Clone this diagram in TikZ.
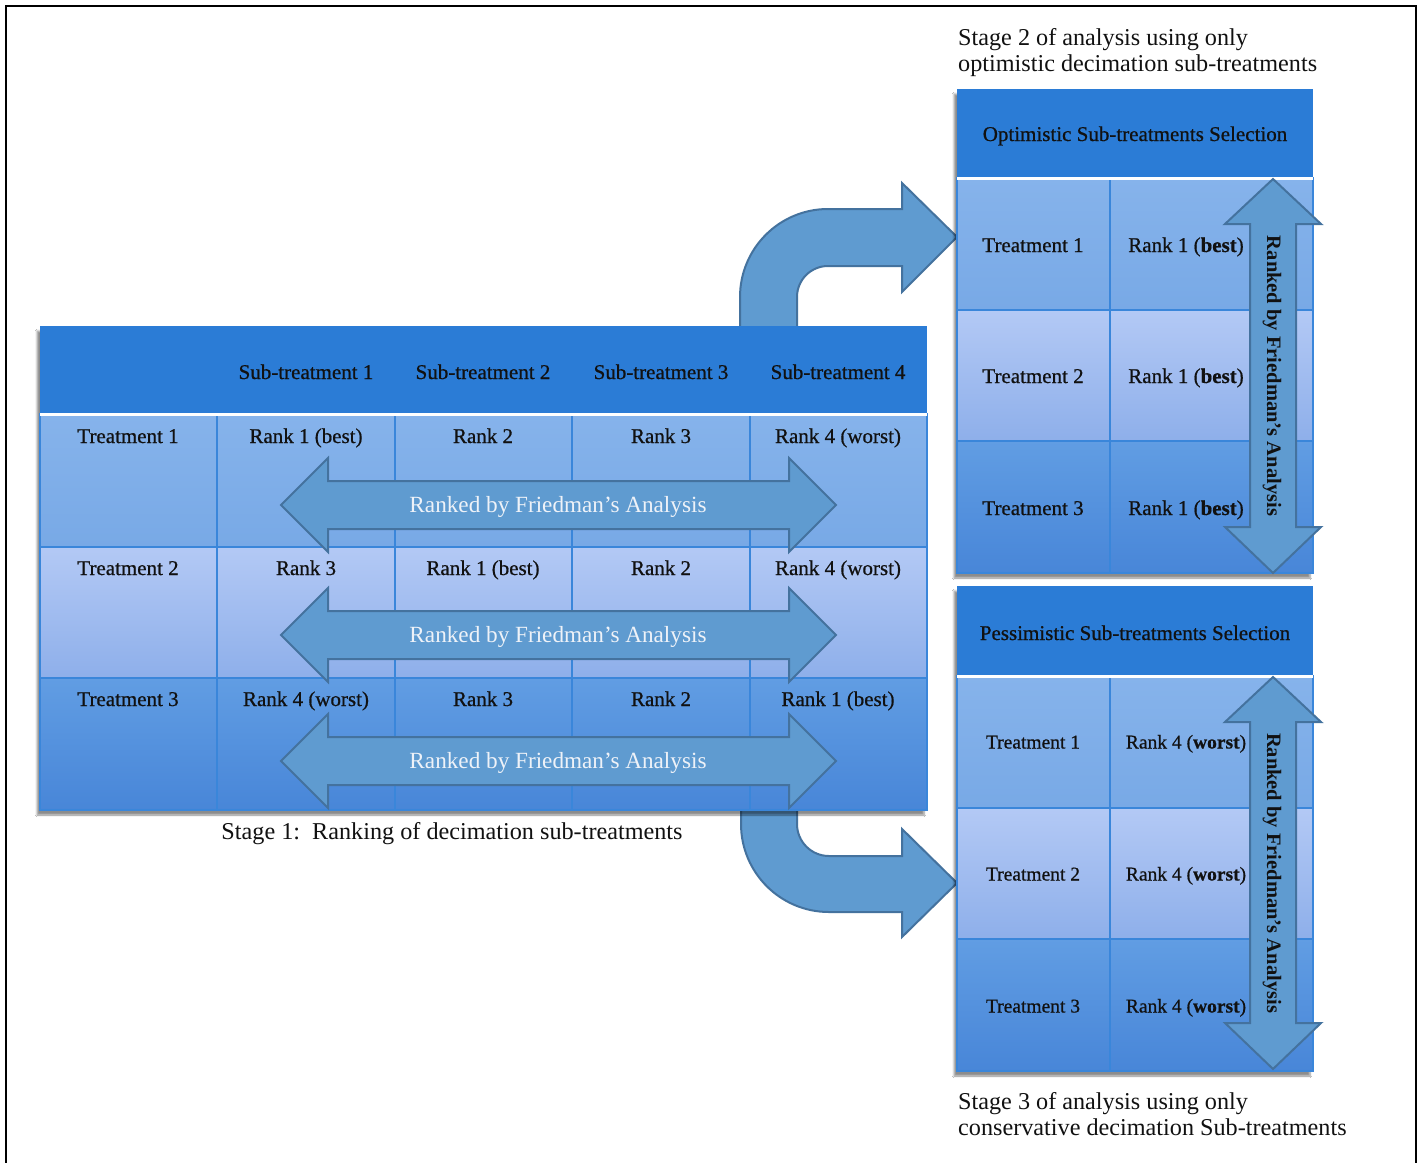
\documentclass[tikz,border=0pt]{standalone}
\usepackage{fontspec}
\setmainfont{Liberation Serif}
\usetikzlibrary{shadows.blur}

\definecolor{hdr}{HTML}{2B7CD6}
\definecolor{rowAtop}{HTML}{86B3EB}
\definecolor{rowAbot}{HTML}{78A9E6}
\definecolor{rowBtop}{HTML}{B3C9F5}
\definecolor{rowBbot}{HTML}{8EAFEA}
\definecolor{rowCtop}{HTML}{619DE3}
\definecolor{rowCbot}{HTML}{4886D8}
\definecolor{grid}{HTML}{3A86DA}
\definecolor{arrfill}{HTML}{5F9BD0}
\definecolor{arrdraw}{HTML}{44729E}
\definecolor{arrtext}{HTML}{EEF2F8}
\definecolor{ink}{HTML}{111111}

\newcommand\cellfont{\fontsize{21}{25}\selectfont\addfontfeature{FakeBold=0.7}}
\newcommand\smallcellfont{\fontsize{19.5}{23}\selectfont\addfontfeature{FakeBold=0.7}}

% horizontal double-headed band: #1 = centre line
\newcommand\hband[2]{%
  \draw[band] (281,#1) -- (328,{#1-47}) -- (328,{#1-24}) -- (789,{#1-24})
    -- (789,{#1-47}) -- (836,#1) -- (789,{#1+47}) -- (789,{#1+24})
    -- (328,{#1+24}) -- (328,{#1+47}) -- cycle;
  \node[bandtxt] (#2) at (558,#1) {Ranked by Friedman’s Analysis};}

% vertical double-headed band: #1 = top tip, #2 = bottom tip
\newcommand\vband[3]{%
  \draw[band] (1273,#1) -- (1321,{#1+45}) -- (1296,{#1+45}) -- (1296,{#2-46})
    -- (1321,{#2-46}) -- (1273,#2) -- (1225,{#2-46}) -- (1250,{#2-46})
    -- (1250,{#1+45}) -- (1225,{#1+45}) -- cycle;
  \node[vbandtxt] (#3) at (1273,{(#1+#2)/2}) {Ranked by Friedman’s Analysis};}

\begin{document}
\begin{tikzpicture}[x=1pt,y=-1pt,
  cell/.style={font=\cellfont, text=ink, inner sep=0pt, text height=14pt, text depth=0pt},
  pcell/.style={font=\smallcellfont, text=ink, inner sep=0pt, text height=13pt, text depth=0pt},
  caption/.style={font=\fontsize{24.2}{26}\selectfont, text=ink, inner sep=0pt, align=left},
  band/.style={fill=arrfill, draw=arrdraw, line width=2pt, line join=miter},
  bandtxt/.style={font=\fontsize{23.2}{26}\selectfont, text=arrtext, inner sep=0pt, text height=15.4pt, text depth=0pt},
  vbandtxt/.style={font=\bfseries\fontsize{20.5}{24}\selectfont, text=ink, inner sep=0pt, rotate=-90, text height=14pt, text depth=2pt},
  gridline/.style={draw=grid, line width=2pt},
  sep/.style={draw=white, line width=3pt},
  tshadow/.style={fill=white, blur shadow={shadow xshift=-3pt, shadow yshift=-5pt, shadow opacity=45, shadow blur steps=6}},
  frame/.style={draw=black, line width=2.2pt}
]
\useasboundingbox (0,0) rectangle (1420,1162);
\fill[white] (0,0) rectangle (1420,1162);

% page frame
\draw[frame] (6,1180) -- (6,6) -- (1416,6) -- (1416,1180);

% ---------- curved connectors (behind the tables) ----------
\draw[band] (740,340) -- (740,297) arc[start angle=180, end angle=270, radius=88]
  -- (902,209) -- (902,183) -- (957,237) -- (902,292) -- (902,266) -- (828,266)
  arc[start angle=270, end angle=180, radius=31] -- (797,340) -- cycle;
\draw[band] (797,795) -- (797,824) arc[start angle=180, end angle=90, radius=32]
  -- (902,856) -- (902,829) -- (957,883) -- (902,937) -- (902,912) -- (829,912)
  arc[start angle=90, end angle=180, radius=88] -- (741,795) -- cycle;

% ---------- Stage 1 table ----------
\path[tshadow] (40,326) rectangle (927,810);
\fill[hdr] (40,326) rectangle (927,413);
\shade[top color=rowAtop, bottom color=rowAbot] (40,414) rectangle (927,547);
\shade[top color=rowBtop, bottom color=rowBbot] (40,547) rectangle (927,678);
\shade[top color=rowCtop, bottom color=rowCbot] (40,678) rectangle (927,810);
\foreach \x in {217,395,572,750} \draw[gridline] (\x,414) -- (\x,810);
\foreach \y in {547,678} \draw[gridline] (40,\y) -- (927,\y);
\draw[gridline] (40,414) rectangle (927,810);
\draw[sep] (40,414) -- (927,414);

\node[cell] (s1) at (306,372) {Sub-treatment 1};
\node[cell] (s2) at (483,372) {Sub-treatment 2};
\node[cell] (s3) at (661,372) {Sub-treatment 3};
\node[cell] (s4) at (838,372) {Sub-treatment 4};

\node[cell] (t1) at (128,436) {Treatment 1};
\node[cell] (t1a) at (306,436) {Rank 1 (best)};
\node[cell] (t1b) at (483,436) {Rank 2};
\node[cell] (t1c) at (661,436) {Rank 3};
\node[cell] (t1d) at (838,436) {Rank 4 (worst)};

\node[cell] (t2) at (128,568) {Treatment 2};
\node[cell] (t2a) at (306,568) {Rank 3};
\node[cell] (t2b) at (483,568) {Rank 1 (best)};
\node[cell] (t2c) at (661,568) {Rank 2};
\node[cell] (t2d) at (838,568) {Rank 4 (worst)};

\node[cell] (t3) at (128,699) {Treatment 3};
\node[cell] (t3a) at (306,699) {Rank 4 (worst)};
\node[cell] (t3b) at (483,699) {Rank 3};
\node[cell] (t3c) at (661,699) {Rank 2};
\node[cell] (t3d) at (838,699) {Rank 1 (best)};

\hband{505}{f1}
\hband{635}{f2}
\hband{761}{f3}

\node[caption] (cap1) at (452,834) {Stage 1:\ \ Ranking of decimation sub-treatments};

% ---------- Stage 2 table (optimistic) ----------
\node[caption, anchor=north west] (cap2) at (958,28) {Stage 2 of analysis using only\\optimistic decimation sub-treatments};
\path[tshadow] (957,89) rectangle (1313,573);
\fill[hdr] (957,89) rectangle (1313,177);
\shade[top color=rowAtop, bottom color=rowAbot] (957,178) rectangle (1313,310);
\shade[top color=rowBtop, bottom color=rowBbot] (957,310) rectangle (1313,441);
\shade[top color=rowCtop, bottom color=rowCbot] (957,441) rectangle (1313,573);
\draw[gridline] (1110,178) -- (1110,573);
\foreach \y in {310,441} \draw[gridline] (957,\y) -- (1313,\y);
\draw[gridline] (957,178) rectangle (1313,573);
\draw[sep] (957,178) -- (1313,178);
\node[cell] (oh) at (1135,134) {Optimistic Sub-treatments Selection};
\node[cell] (o1) at (1033,245) {Treatment 1};
\node[cell] (o1r) at (1186,245) {Rank 1 (\textbf{best})};
\node[cell] (o2) at (1033,376) {Treatment 2};
\node[cell] (o2r) at (1186,376) {Rank 1 (\textbf{best})};
\node[cell] (o3) at (1033,508) {Treatment 3};
\node[cell] (o3r) at (1186,508) {Rank 1 (\textbf{best})};
\vband{179}{573}{fo}

% ---------- Stage 3 table (pessimistic) ----------
\path[tshadow] (957,586) rectangle (1313,1071);
\fill[hdr] (957,586) rectangle (1313,675);
\shade[top color=rowAtop, bottom color=rowAbot] (957,676) rectangle (1313,808);
\shade[top color=rowBtop, bottom color=rowBbot] (957,808) rectangle (1313,939);
\shade[top color=rowCtop, bottom color=rowCbot] (957,939) rectangle (1313,1071);
\draw[gridline] (1110,676) -- (1110,1071);
\foreach \y in {808,939} \draw[gridline] (957,\y) -- (1313,\y);
\draw[gridline] (957,676) rectangle (1313,1071);
\draw[sep] (957,676) -- (1313,676);
\node[cell] (ph) at (1135,633) {Pessimistic Sub-treatments Selection};
\node[pcell] (p1) at (1033,742) {Treatment 1};
\node[pcell] (p1r) at (1186,742) {Rank 4 (\textbf{worst})};
\node[pcell] (p2) at (1033,874) {Treatment 2};
\node[pcell] (p2r) at (1186,874) {Rank 4 (\textbf{worst})};
\node[pcell] (p3) at (1033,1006) {Treatment 3};
\node[pcell] (p3r) at (1186,1006) {Rank 4 (\textbf{worst})};
\vband{677}{1069}{fp}

\node[caption, anchor=north west] (cap3) at (958,1092) {Stage 3 of analysis using only\\conservative decimation Sub-treatments};
\end{tikzpicture}
\end{document}
